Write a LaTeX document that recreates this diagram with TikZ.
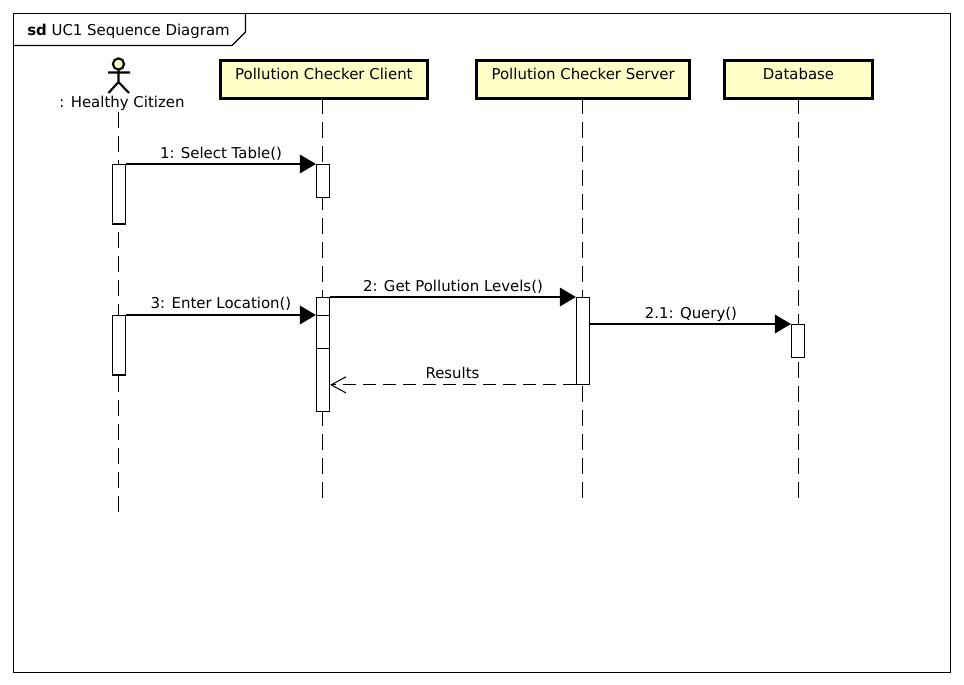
\documentclass[tikz,border=0pt]{standalone}
\usepackage{fontspec}
\setmainfont{DejaVu Sans}
\usetikzlibrary{arrows.meta}
\definecolor{paleyel}{HTML}{FFFFC8}
\tikzset{
  px/.style={x=0.75pt,y=-0.75pt},
  lbl/.style={inner sep=0pt,font=\fontsize{11.2pt}{13pt}\selectfont,text=black,anchor=base},
  objbox/.style={draw=black,line width=2.3pt,fill=paleyel,inner xsep=0pt,inner ysep=0pt,text height=14.4pt,text depth=14.2pt,anchor=north west,font=\fontsize{11.2pt}{13pt}\selectfont},
  activ/.style={draw=black,fill=white,line width=0.9pt,inner sep=0pt,minimum width=9.75pt,anchor=north},
  lifeline/.style={draw=black,line width=1pt,dash pattern=on 12pt off 6pt},
  syncmsg/.style={draw=black,line width=0.9pt,-{Triangle[length=12pt,width=14pt,fill=black]}},
  retmsg/.style={draw=black,line width=0.9pt,dash pattern=on 10pt off 5pt,-{Straight Barb[length=11pt,width=12pt,line width=0.8pt,sep=0pt]}},
  actorline/.style={draw=black,line width=1.6pt},
}
\begin{document}
\begin{tikzpicture}[px]
\useasboundingbox (0,0) rectangle (964,685);
\fill[white] (0,0) rectangle (964,685);
% frame
\draw[line width=0.9pt] (13.5,13.5) rectangle (950.5,672.5);
\draw[line width=0.9pt] (245.5,13.5) -- (245.5,32) -- (232,45.5) -- (13.5,45.5);
\node[lbl,anchor=base west] (frametitle) at (27,35.5) {\textbf{sd} UC1 Sequence Diagram};
% lifelines (under the object boxes)
\coordinate (actor) at (118.5,112);
\coordinate (actorend) at (118.5,512);
\coordinate (clientend) at (322.5,498);
\coordinate (serverend) at (582.5,498);
\coordinate (dbend) at (798.5,498);
\coordinate (clienttop) at (322.5,98);
\coordinate (servertop) at (582.5,98);
\coordinate (dbtop) at (798.5,98);
\draw[lifeline] (actor) -- (actorend);
\draw[lifeline] (clienttop) -- (clientend);
\draw[lifeline] (servertop) -- (serverend);
\draw[lifeline] (dbtop) -- (dbend);
% objects
\node[objbox,minimum width=155pt] (client) at (219,59) {Pollution Checker Client};
\node[objbox,minimum width=160pt] (server) at (475,59) {Pollution Checker Server};
\node[objbox,minimum width=111pt] (db) at (723,59) {Database};
% actor
\node[lbl] (actorlabel) at (122,107.5) {: Healthy Citizen};
\draw[actorline,fill=paleyel] (118.5,64) circle (5.6);
\draw[actorline] (118.5,70) -- (118.5,82) (108,72.5) -- (130,72.5)
  (108.5,93) -- (118.5,82) -- (129,93);
% activations
\node[activ,minimum height=44.6pt] (a1) at (119,164) {};
\node[activ,minimum height=24.4pt] (c1) at (323,164) {};
\node[activ,minimum height=44.6pt] (a2) at (119,315) {};
\node[activ,minimum height=38pt] (c2) at (323,297) {};
\node[activ,minimum height=72pt] (c3) at (323,315) {};
\node[activ,minimum height=65pt] (s1) at (583,297) {};
\node[activ,minimum height=24.6pt] (d1) at (798,324) {};
\draw[line width=0.9pt] (c2.south west) -- (c2.south east);
% messages
\draw[syncmsg] (a1.north east) -- (c1.north west);
\node[lbl] (m1) at (221,158) {1: Select Table()};
\draw[syncmsg] (c2.north east) -- (s1.north west);
\node[lbl] (m2) at (453,291) {2: Get Pollution Levels()};
\draw[syncmsg] (a2.north east) -- (c3.north west);
\node[lbl] (m3) at (221,308) {3: Enter Location()};
\draw[syncmsg] (s1.east |- d1.north) -- (d1.north west);
\node[lbl] (m4) at (691,318.5) {2.1: Query()};
\draw[retmsg] (s1.south west) -- (c3.east |- s1.south);
\node[lbl] (m5) at (452.5,378.5) {Results};
\end{tikzpicture}
\end{document}
